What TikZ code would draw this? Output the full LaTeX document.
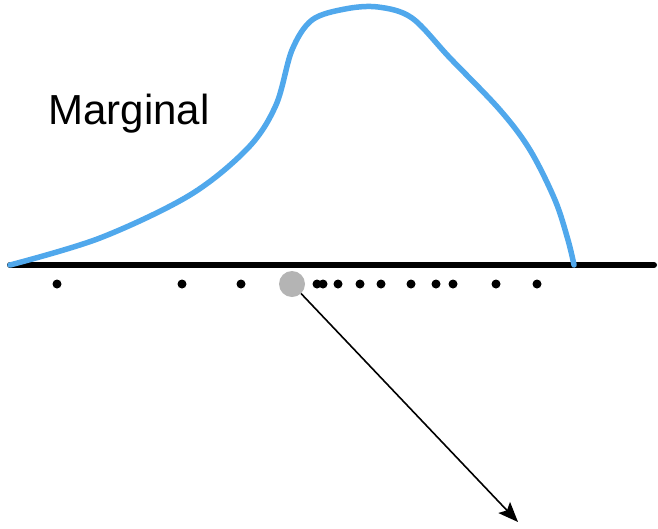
\documentclass[tikz,border=0pt]{standalone}
\usepackage{fontspec}
\setmainfont{Liberation Sans}
\usetikzlibrary{arrows.meta}
\definecolor{curveblue}{RGB}{80,168,236}
\definecolor{dotgrey}{RGB}{180,180,180}
\begin{document}
\begin{tikzpicture}[x=1pt,y=-1pt,
  sample/.style={circle,fill=black,inner sep=0pt,minimum size=9pt},
  picked/.style={circle,fill=dotgrey,inner sep=0pt,minimum size=26pt},
  axisline/.style={line width=6pt,line cap=round},
  density/.style={curveblue,line width=5.5pt,line cap=round,line join=round},
  link/.style={line width=1.6pt,-{Stealth[length=20pt,width=16pt,inset=4pt]}}]
\useasboundingbox (0,0) rectangle (658,528);
\coordinate (la) at (10,265);
\coordinate (lb) at (654,265);
\draw[axisline] (la) -- (lb);
\draw[density] plot[smooth,tension=0.55] coordinates {
  (10,265) (100,238) (190,195) (248,148) (276,105) (292,50) (312,20) (345,9) (378,7) (412,18) (450,58) (500,110) (530,150) (555,200) (568,240) (574,265)};
\node[font=\fontsize{42}{48}\selectfont,anchor=base west] (lbl) at (45,124) {Marginal};
\foreach \x [count=\i] in {57,182,241,317,323,338,360,381,411,436,453,496,537}
  \node[sample] (s\i) at (\x,284) {};
\node[picked] (g) at (292,284) {};
\coordinate (tip) at (518,522);
\draw[link] (g) -- (tip);
\end{tikzpicture}
\end{document}
